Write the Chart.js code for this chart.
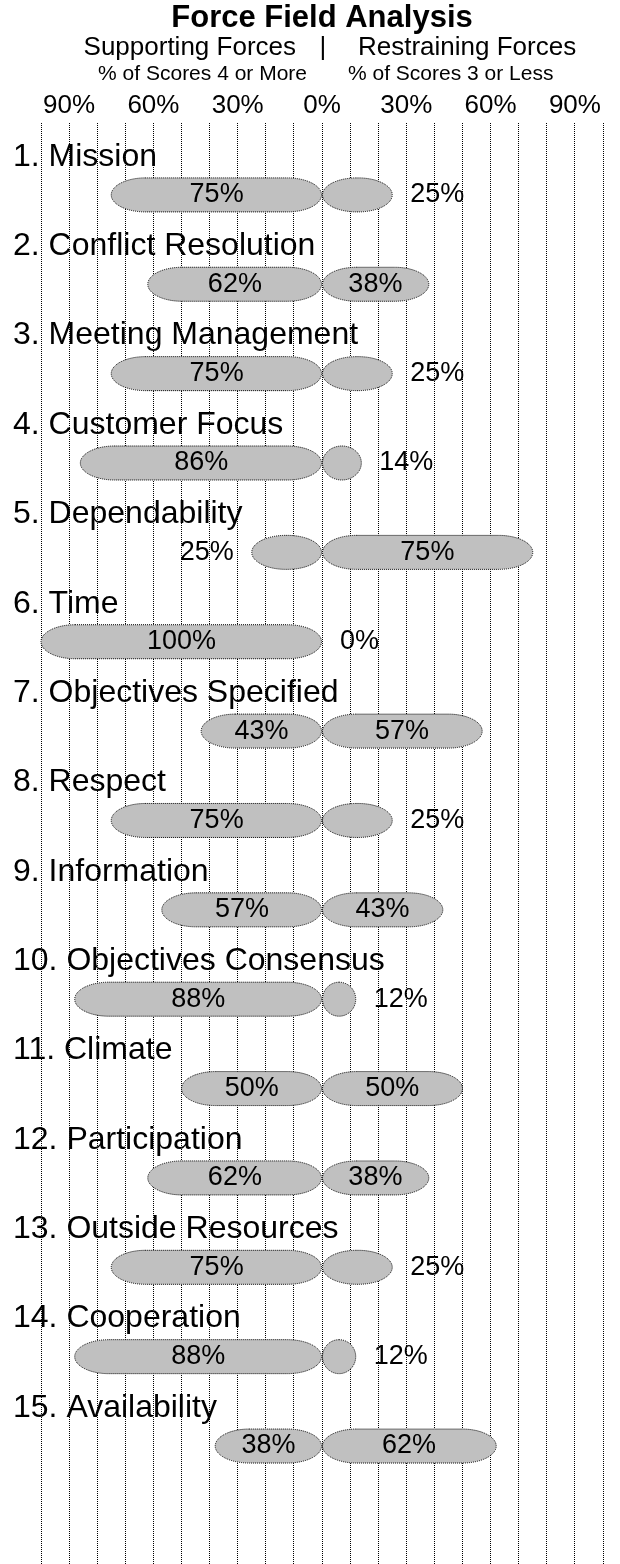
<!DOCTYPE html>
<html>
<head>
<meta charset="utf-8">
<title>Force Field Analysis</title>
<script src="https://cdn.jsdelivr.net/npm/chart.js@4.4.1/dist/chart.umd.min.js"></script>
<style>
  html, body { margin: 0; padding: 0; background: #fff; overflow: hidden; }
  canvas { display: block; }
</style>
</head>
<body>
<canvas id="forceChart" width="620" height="1564"></canvas>
<script>
const categories = [
    '1. Mission', '2. Conflict Resolution', '3. Meeting Management', '4. Customer Focus',
    '5. Dependability', '6. Time', '7. Objectives Specified', '8. Respect', '9. Information',
    '10. Objectives Consensus', '11. Climate', '12. Participation', '13. Outside Resources',
    '14. Cooperation', '15. Availability'
];
const supporting = [75, 62, 75, 86, 25, 100, 43, 75, 57, 88, 50, 62, 75, 88, 38];
const restraining = [25, 38, 25, 14, 75, 0, 57, 25, 43, 12, 50, 38, 25, 12, 62];
const tickValues = [-90, -60, -30, 0, 30, 60, 90];
const headings = ['Supporting Forces', 'Restraining Forces'];
const subHeadings = ['% of Scores 4 or More', '% of Scores 3 or Less'];

const FONT = "'Liberation Sans', Arial, Helvetica, sans-serif";

(function () {
    // bars are drawn as gray pills with elliptical caps, like the original
    const pillBars = {
        id: 'pillBars',
        beforeDatasetDraw(chart, args) {
            const ctx = chart.ctx;
            args.meta.data.forEach(bar => {
                const { x, y, base, height } = bar.getProps(['x', 'y', 'base', 'height'], true);
                const left = Math.min(x, base);
                const right = Math.max(x, base);
                const w = right - left;
                if (w < 1) return;
                const ry = height / 2;
                const rx = Math.min(height, w / 2);
                ctx.save();
                ctx.beginPath();
                ctx.moveTo(left + rx, y - ry);
                ctx.lineTo(right - rx, y - ry);
                ctx.ellipse(right - rx, y, rx, ry, 0, -Math.PI / 2, Math.PI / 2);
                ctx.lineTo(left + rx, y + ry);
                ctx.ellipse(left + rx, y, rx, ry, 0, Math.PI / 2, Math.PI * 1.5);
                ctx.closePath();
                ctx.fillStyle = '#c0c0c0';
                ctx.fill();
                ctx.setLineDash([1, 1]);
                ctx.strokeStyle = '#000';
                ctx.lineWidth = 1;
                ctx.stroke();
                ctx.restore();
            });
            return false;
        },
        afterDatasetsDraw(chart) {
            const ctx = chart.ctx;
            const xs = chart.scales.x;
            const ys = chart.scales.y;
            const zero = xs.getPixelForValue(0);
            ctx.save();
            ctx.fillStyle = '#000';
            ctx.textBaseline = 'middle';
            categories.forEach((name, i) => {
                const yc = ys.getPixelForValue(i);
                ctx.font = '32px ' + FONT;
                ctx.textAlign = 'left';
                ctx.fillText(name, 13, yc - 38);

                ctx.font = '27px ' + FONT;
                const sx = xs.getPixelForValue(-supporting[i]);
                if (supporting[i] >= 30) {
                    ctx.textAlign = 'center';
                    ctx.fillText(supporting[i] + '%', (sx + zero) / 2, yc);
                } else {
                    ctx.textAlign = 'right';
                    ctx.fillText(supporting[i] + '%', sx - 18, yc);
                }
                const rx = xs.getPixelForValue(restraining[i]);
                if (restraining[i] >= 30) {
                    ctx.textAlign = 'center';
                    ctx.fillText(restraining[i] + '%', (rx + zero) / 2, yc);
                } else {
                    ctx.textAlign = 'left';
                    ctx.fillText(restraining[i] + '%', rx + 18, yc);
                }
            });
            ctx.restore();
        },
        afterDraw(chart) {
            const ctx = chart.ctx;
            const zero = chart.scales.x.getPixelForValue(0);
            ctx.save();
            ctx.fillStyle = '#000';
            ctx.textBaseline = 'middle';
            ctx.font = '26px ' + FONT;
            ctx.textAlign = 'right';
            ctx.fillText(headings[0], zero - 26, 48);
            ctx.textAlign = 'center';
            ctx.fillText('|', zero + 1, 48);
            ctx.textAlign = 'left';
            ctx.fillText(headings[1], zero + 36, 48);
            ctx.font = '21px ' + FONT;
            ctx.textAlign = 'right';
            ctx.fillText(subHeadings[0], zero - 15, 74);
            ctx.textAlign = 'left';
            ctx.fillText(subHeadings[1], zero + 26, 74);
            ctx.restore();
        }
    };

    function renderChart() {
        const canvas = document.getElementById('forceChart');
        new Chart(canvas.getContext('2d'), {
            type: 'bar',
            data: {
                datasets: [{
                    label: 'Supporting',
                    data: supporting.map((v, i) => ({ x: -v, y: i })),
                    backgroundColor: '#c0c0c0',
                    barThickness: 34,
                    grouped: false
                }, {
                    label: 'Restraining',
                    data: restraining.map((v, i) => ({ x: v, y: i })),
                    backgroundColor: '#c0c0c0',
                    barThickness: 34,
                    grouped: false
                }]
            },
            options: {
                indexAxis: 'y',
                responsive: false,
                animation: false,
                layout: { padding: { left: 41, right: 17, top: 0, bottom: 0 } },
                plugins: {
                    legend: { display: false },
                    tooltip: { enabled: false },
                    title: {
                        display: true,
                        text: 'Force Field Analysis',
                        color: '#000',
                        font: { family: FONT, size: 31, weight: 'bold' },
                        padding: { top: 0, bottom: 51 }
                    }
                },
                scales: {
                    x: {
                        type: 'linear',
                        position: 'top',
                        min: -100,
                        max: 100,
                        grid: { color: '#000', lineWidth: 1, drawTicks: false, borderDash: [1, 1] },
                        border: { display: false, dash: [1, 1] },
                        ticks: {
                            stepSize: 10,
                            autoSkip: false,
                            maxRotation: 0,
                            padding: 2,
                            color: '#000',
                            font: { family: FONT, size: 26 },
                            callback: v => tickValues.includes(v) ? Math.abs(v) + '%' : ''
                        }
                    },
                    y: {
                        type: 'linear',
                        reverse: true,
                        offset: false,
                        min: -0.8,
                        max: 15.32,
                        display: false
                    }
                }
            },
            plugins: [pillBars]
        });
    }

    if (document.readyState === 'loading') {
        document.addEventListener('DOMContentLoaded', renderChart);
    } else { renderChart(); }
})();
</script>
</body>
</html>
